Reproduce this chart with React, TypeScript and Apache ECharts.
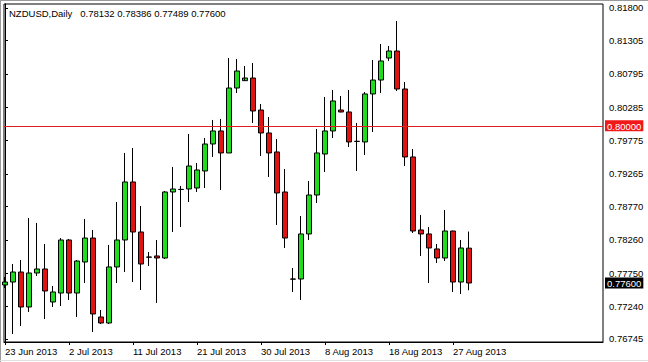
import { useEffect, useRef } from 'react';
import * as echarts from 'echarts';

const symbolName = 'NZDUSD,Daily';
const xTickLabels = ['23 Jun 2013', '2 Jul 2013', '11 Jul 2013', '21 Jul 2013', '30 Jul 2013', '8 Aug 2013', '18 Aug 2013', '27 Aug 2013'];
const barsPerTick = 8;
const yTickValues = [0.818, 0.81305, 0.80795, 0.80285, 0.79775, 0.79265, 0.7877, 0.7826, 0.7775, 0.7724, 0.76745];
const levelLine = 0.8;
const lastBid = 0.776;

const openP = [0.7757, 0.77615, 0.77768, 0.77234, 0.77753, 0.77814, 0.7731, 0.77447, 0.78257, 0.77447,
  0.77921, 0.78287, 0.77081, 0.76989, 0.77845, 0.78257, 0.79143, 0.78379, 0.77997, 0.78013,
  0.77982, 0.7899, 0.79028, 0.79036, 0.79051, 0.79311, 0.79723, 0.79922, 0.79586, 0.80578,
  0.8069, 0.80731, 0.80242, 0.79891, 0.79601, 0.7899, 0.77661, 0.77661, 0.78349, 0.78944,
  0.7957, 0.79922, 0.80242, 0.80212, 0.79764, 0.79754, 0.80487, 0.807, 0.81036, 0.81143,
  0.80563, 0.79525, 0.7841, 0.78349, 0.7812, 0.77982, 0.78394, 0.77615, 0.78132];
const closeP = [0.77615, 0.77768, 0.77234, 0.77753, 0.77814, 0.77478, 0.77463, 0.78257, 0.77447, 0.77936,
  0.78287, 0.77127, 0.76989, 0.77845, 0.78257, 0.79143, 0.78379, 0.7789, 0.77994, 0.77982,
  0.7899, 0.79036, 0.7903, 0.79387, 0.79326, 0.79723, 0.79922, 0.79586, 0.80578, 0.80838,
  0.80731, 0.80227, 0.79891, 0.79586, 0.78975, 0.78287, 0.77659, 0.78349, 0.78944, 0.79586,
  0.79922, 0.8038, 0.80212, 0.79754, 0.79762, 0.80487, 0.807, 0.80991, 0.81143, 0.80563,
  0.79525, 0.78394, 0.78349, 0.78135, 0.77982, 0.78394, 0.77615, 0.78135, 0.776];
const lowP = [0.77524, 0.76821, 0.76944, 0.77157, 0.77707, 0.7705, 0.77234, 0.77249, 0.77341, 0.77081,
  0.776, 0.76852, 0.76974, 0.76974, 0.776, 0.77768, 0.77615, 0.77493, 0.7786, 0.77295,
  0.77967, 0.78379, 0.78455, 0.78837, 0.7899, 0.79051, 0.79525, 0.79021, 0.79586, 0.80502,
  0.80729, 0.80044, 0.7954, 0.79219, 0.78486, 0.78135, 0.77463, 0.77341, 0.78257, 0.78822,
  0.79295, 0.79815, 0.80207, 0.79677, 0.79311, 0.79555, 0.79906, 0.80502, 0.80991, 0.80532,
  0.79387, 0.78364, 0.78013, 0.776, 0.77906, 0.77936, 0.77463, 0.77432, 0.77489];
const highP = [0.77692, 0.7789, 0.77952, 0.78593, 0.78517, 0.78196, 0.77554, 0.78287, 0.78272, 0.77952,
  0.78578, 0.7841, 0.77188, 0.78181, 0.78837, 0.79586, 0.79662, 0.78776, 0.78074, 0.78257,
  0.79005, 0.79372, 0.79082, 0.79876, 0.79433, 0.79815, 0.8009, 0.80105, 0.81036, 0.81021,
  0.80914, 0.8096, 0.80334, 0.80135, 0.79799, 0.79341, 0.77829, 0.78623, 0.79158, 0.79952,
  0.80441, 0.80548, 0.80456, 0.80548, 0.80044, 0.80517, 0.81006, 0.8125, 0.8122, 0.81601,
  0.8067, 0.79647, 0.78639, 0.78455, 0.78196, 0.78715, 0.784, 0.78257, 0.78386];

const FONT = 'Liberation Sans';
const FS = 9.5;
const Y_MIN = 0.76699;
const Y_MAX = 0.81861;

export default function App() {
  const ref = useRef<HTMLDivElement>(null);
  useEffect(() => {
    document.body.style.margin = '0';
    if (!ref.current) return;
    const chart = echarts.init(ref.current, undefined, { renderer: 'svg' });
    const n = openP.length;
    const data = openP.map((o, i) => [i, o, closeP[i], lowP[i], highP[i]]);
    const xTickValues = xTickLabels.map((_, k) => k * barsPerTick);
    const header = `${symbolName}   ${openP[n - 1].toFixed(5)} ${highP[n - 1].toFixed(5)} ${lowP[n - 1].toFixed(5)} ${closeP[n - 1].toFixed(5)}`;
    const tagStyle = { color: '#fff', padding: [1, 2, 0, 2], fontFamily: FONT, fontSize: FS, lineHeight: 10 };
    chart.setOption({
      animation: false,
      backgroundColor: '#ffffff',
      textStyle: { fontFamily: FONT, fontSize: FS },
      grid: {
        left: 4, top: 4, width: 599, height: 338,
        show: true, borderColor: '#000', borderWidth: 1, backgroundColor: '#fff',
      },
      xAxis: {
        type: 'value',
        min: -0.125,
        max: 74.75,
        splitLine: { show: false },
        axisLine: { show: true, lineStyle: { color: '#000', width: 1 } },
        axisTick: { show: true, length: 3, lineStyle: { color: '#000' }, customValues: xTickValues },
        axisLabel: {
          customValues: xTickValues,
          formatter: (v: number) => xTickLabels[Math.round(v / barsPerTick)] ?? '',
          align: 'left',
          margin: 4,
          color: '#000',
          fontFamily: FONT,
          fontSize: FS,
        },
      },
      yAxis: [
        {
          type: 'value',
          position: 'right',
          min: Y_MIN,
          max: Y_MAX,
          splitLine: { show: false },
          axisLine: { show: true, lineStyle: { color: '#000', width: 1 } },
          axisTick: { show: true, length: 3, lineStyle: { color: '#000' }, customValues: yTickValues },
          axisLabel: {
            customValues: yTickValues,
            formatter: (v: number) => v.toFixed(5),
            margin: 6,
            color: '#000',
            fontFamily: FONT,
            fontSize: FS,
          },
        },
        {
          type: 'value',
          position: 'right',
          min: Y_MIN,
          max: Y_MAX,
          splitLine: { show: false },
          axisLine: { show: false },
          axisTick: { show: false },
          axisLabel: {
            customValues: [levelLine, lastBid],
            formatter: (v: number) => (Math.abs(v - levelLine) < 1e-7 ? `{r|${v.toFixed(5)}}` : `{b|${v.toFixed(5)}}`),
            margin: 2,
            rich: {
              r: { ...tagStyle, backgroundColor: '#f01818' },
              b: { ...tagStyle, backgroundColor: '#000' },
            },
          },
        },
      ],
      series: [
        {
          type: 'candlestick',
          data,
          encode: { x: 0, y: [1, 2, 3, 4] },
          barWidth: 5,
          itemStyle: {
            color: '#1fdc1f',
            color0: '#e01212',
            borderColor: '#000',
            borderColor0: '#000',
            borderColorDoji: '#000',
            borderWidth: 1,
          },
          markLine: {
            silent: true,
            symbol: 'none',
            animation: false,
            label: { show: false },
            data: [
              { yAxis: levelLine, lineStyle: { color: '#e02020', width: 1, type: 'solid' } },
            ],
          },
        },
      ],
      graphic: [
        { type: 'line', shape: { x1: 0, y1: 0.5, x2: 648, y2: 0.5 }, style: { stroke: '#9a9a9a', lineWidth: 1 }, silent: true },
        { type: 'line', shape: { x1: 0.5, y1: 0, x2: 0.5, y2: 362 }, style: { stroke: '#9a9a9a', lineWidth: 1 }, silent: true },
        { type: 'line', shape: { x1: 0, y1: 360.5, x2: 648, y2: 360.5 }, style: { stroke: '#e0e0e0', lineWidth: 1 }, silent: true },
        {
          type: 'text', left: 9, top: 8, silent: true,
          style: { text: header, font: `${FS}px "${FONT}"`, fill: '#000' },
        },
      ],
    });
    return () => chart.dispose();
  }, []);
  return <div ref={ref} style={{ width: 648, height: 362 }} />;
}
